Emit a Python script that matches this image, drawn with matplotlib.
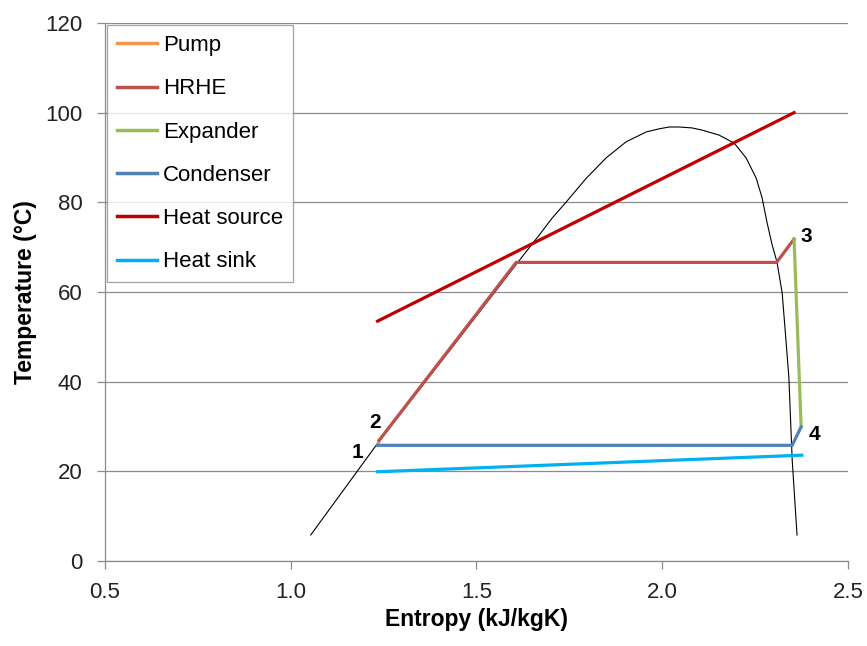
import matplotlib
matplotlib.use('Agg')
from matplotlib import pyplot as plt

# cycle state points (entropy kJ/kgK, temperature C)
pump_s = [1.234, 1.238]
pump_t = [25.8, 26.9]

hrhe_s = [1.238, 1.607, 2.308, 2.355]
hrhe_t = [26.9, 66.6, 66.6, 71.8]

expander_s = [2.355, 2.374]
expander_t = [71.8, 29.9]

condenser_s = [2.374, 2.350, 1.234]
condenser_t = [29.9, 25.8, 25.8]

source_s = [1.234, 2.355]
source_t = [53.5, 100.0]

sink_s = [1.234, 2.376]
sink_t = [19.9, 23.6]

# saturation dome
dome_s = [1.054, 1.231, 1.450, 1.616, 1.669, 1.704, 1.742, 1.796, 1.849,
          1.903, 1.957, 1.992, 2.019, 2.046, 2.080, 2.108, 2.153, 2.194,
          2.226, 2.253, 2.269, 2.282, 2.296, 2.309, 2.323, 2.332, 2.341,
          2.350, 2.363]
dome_t = [5.8, 25.9, 49.3, 67.1, 72.7, 76.5, 80.1, 85.4, 89.9,
          93.5, 95.7, 96.4, 96.8, 96.8, 96.6, 96.1, 95.0, 93.2,
          89.9, 85.4, 81.0, 75.6, 70.5, 66.7, 59.8, 50.5, 41.0,
          22.5, 5.8]

point_labels = ['1', '2', '3', '4']
label_pos = [(1.179, 24.3), (1.228, 30.8), (2.387, 72.3), (2.409, 28.3)]

colors = {
    'Pump': '#F79646',
    'HRHE': '#C0504D',
    'Expander': '#9BBB59',
    'Condenser': '#4F81BD',
    'Heat source': '#C00000',
    'Heat sink': '#00B0F0',
}

plt.rcParams['font.family'] = ['Liberation Sans', 'DejaVu Sans']

fig = plt.figure(figsize=(8.67, 6.46), dpi=100)
ax = fig.add_axes([0.121, 0.1316, 0.857, 0.8328])

ax.plot(dome_s, dome_t, color='black', linewidth=0.8, zorder=2,
        solid_joinstyle='round')

lw = 2.3
ax.plot(pump_s, pump_t, color=colors['Pump'], linewidth=lw, label='Pump', zorder=3)
ax.plot(hrhe_s, hrhe_t, color=colors['HRHE'], linewidth=lw, label='HRHE', zorder=3)
ax.plot(expander_s, expander_t, color=colors['Expander'], linewidth=lw, label='Expander', zorder=3)
ax.plot(condenser_s, condenser_t, color=colors['Condenser'], linewidth=lw, label='Condenser', zorder=3)
ax.plot(source_s, source_t, color=colors['Heat source'], linewidth=lw, label='Heat source', zorder=3)
ax.plot(sink_s, sink_t, color=colors['Heat sink'], linewidth=lw, label='Heat sink', zorder=3)

for lab, (x, y) in zip(point_labels, label_pos):
    ax.text(x, y, lab, fontsize=15, fontweight='bold', ha='center', va='center')

ax.set_xlim(0.5, 2.5)
ax.set_ylim(0, 120)
ax.set_xticks([0.5, 1.0, 1.5, 2.0, 2.5])
ax.set_xticklabels(['0.5', '1.0', '1.5', '2.0', '2.5'])
ax.set_yticks(range(0, 121, 20))

ax.yaxis.grid(True, color='#8c8c8c', linewidth=0.9)
ax.set_axisbelow(True)
for side in ['top', 'right']:
    ax.spines[side].set_visible(False)
for side in ['left', 'bottom']:
    ax.spines[side].set_color('#8c8c8c')
    ax.spines[side].set_linewidth(0.9)
ax.tick_params(axis='both', colors='#8c8c8c', labelcolor='#222222',
               labelsize=16, length=6, width=0.9)
ax.tick_params(axis='x', pad=9)
ax.tick_params(axis='y', pad=10)

ax.set_xlabel('Entropy (kJ/kgK)', fontsize=16.5, fontweight='bold', labelpad=4)
ax.set_ylabel('Temperature (°C)', fontsize=16.5, fontweight='bold', labelpad=6)

leg = ax.legend(loc='upper left', bbox_to_anchor=(0.0, 1.0), fontsize=16,
                frameon=True, fancybox=False, edgecolor='#8c8c8c',
                handlelength=1.8, handletextpad=0.25, labelspacing=1.0,
                borderpad=0.45, borderaxespad=0.1)
leg.get_frame().set_linewidth(0.9)
for line in leg.get_lines():
    line.set_linewidth(2.5)

fig.savefig('out.png', dpi=100)
